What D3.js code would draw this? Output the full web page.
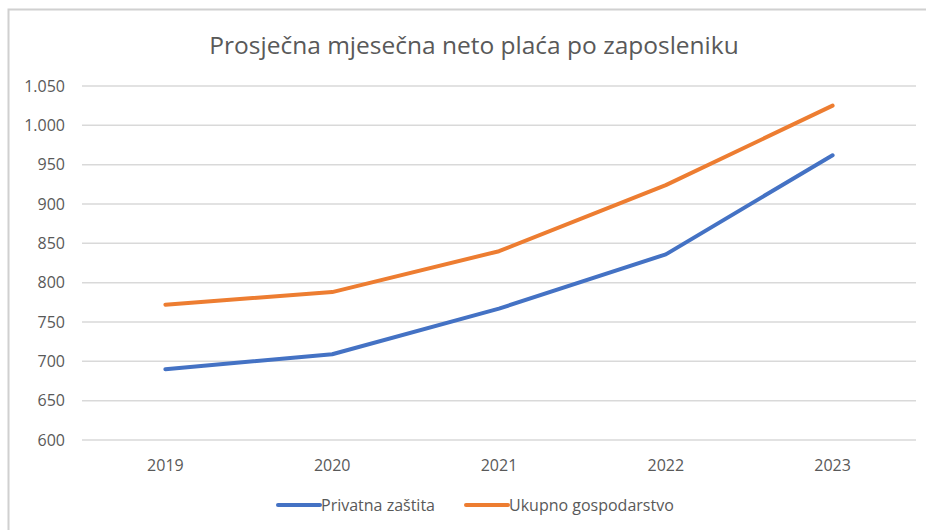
<!DOCTYPE html>
<html>
<head>
<meta charset="utf-8">
<script src="https://cdn.jsdelivr.net/npm/d3@7"></script>
<style>
  body { margin: 0; background: #fff; }
  text { font-family: "Open Sans", sans-serif; fill: #595959; }
</style>
</head>
<body>
<svg id="chart" width="926" height="530"></svg>
<script>
const years = ['2019', '2020', '2021', '2022', '2023']
const privatna = [690, 709, 767, 836, 962]
const ukupno = [772, 788, 840, 924, 1025]
const yTicks = [600, 650, 700, 750, 800, 850, 900, 950, 1000, 1050]
const seriesNames = ['Privatna zaštita', 'Ukupno gospodarstvo']
const colors = ['#4472c4', '#ed7d31']

const W = 926, H = 530
const margin = {top: 86, right: 10, bottom: 90, left: 82}
const width = W - margin.left - margin.right
const height = H - margin.top - margin.bottom

const svg = d3.select('#chart')

// outer frame
svg.append('rect')
  .attr('x', 8.5).attr('y', 9.5)
  .attr('width', W).attr('height', H)
  .attr('fill', 'none').attr('stroke', '#d0d0d0').attr('stroke-width', 2)

svg.append('text')
  .attr('x', 474).attr('y', 54)
  .attr('text-anchor', 'middle')
  .style('font-size', '24.5px')
  .text('Prosječna mjesečna neto plaća po zaposleniku')

const g = svg.append('g')
  .attr('transform', 'translate(' + margin.left + ',' + margin.top + ')')

const x = d3.scalePoint().domain(years).range([0, width]).padding(0.5)
const y = d3.scaleLinear().domain([600, 1050]).range([height, 0])

// grid
g.append('g')
  .selectAll('line')
  .data(yTicks)
  .join('line')
  .attr('x1', 0).attr('x2', width)
  .attr('y1', d => y(d)).attr('y2', d => y(d))
  .attr('stroke', '#d9d9d9').attr('stroke-width', 1.5)

// y labels
g.append('g')
  .selectAll('text')
  .data(yTicks)
  .join('text')
  .attr('x', -17).attr('y', d => y(d))
  .attr('dy', '0.35em')
  .attr('text-anchor', 'end')
  .style('font-size', '16px')
  .text(d => d3.format(',')(d).replace(',', '.'))

// x labels
g.append('g')
  .selectAll('text')
  .data(years)
  .join('text')
  .attr('x', d => x(d)).attr('y', height + 31)
  .attr('text-anchor', 'middle')
  .style('font-size', '16px')
  .text(d => d)

const line = d3.line()
  .x((d, i) => x(years[i]))
  .y(d => y(d))

;[privatna, ukupno].forEach((s, i) => {
  g.append('path')
    .datum(s)
    .attr('fill', 'none')
    .attr('stroke', colors[i])
    .attr('stroke-width', 4)
    .attr('stroke-linecap', 'round')
    .attr('stroke-linejoin', 'round')
    .attr('d', line)
})

// legend
const legendX = [278, 466]
seriesNames.forEach((name, i) => {
  const lg = svg.append('g').attr('transform', 'translate(' + legendX[i] + ',505)')
  lg.append('line')
    .attr('x1', 0).attr('x2', 42)
    .attr('stroke', colors[i]).attr('stroke-width', 4)
    .attr('stroke-linecap', 'round')
  lg.append('text')
    .attr('x', 43).attr('dy', '0.35em')
    .style('font-size', '16px')
    .text(name)
})
</script>
</body>
</html>
